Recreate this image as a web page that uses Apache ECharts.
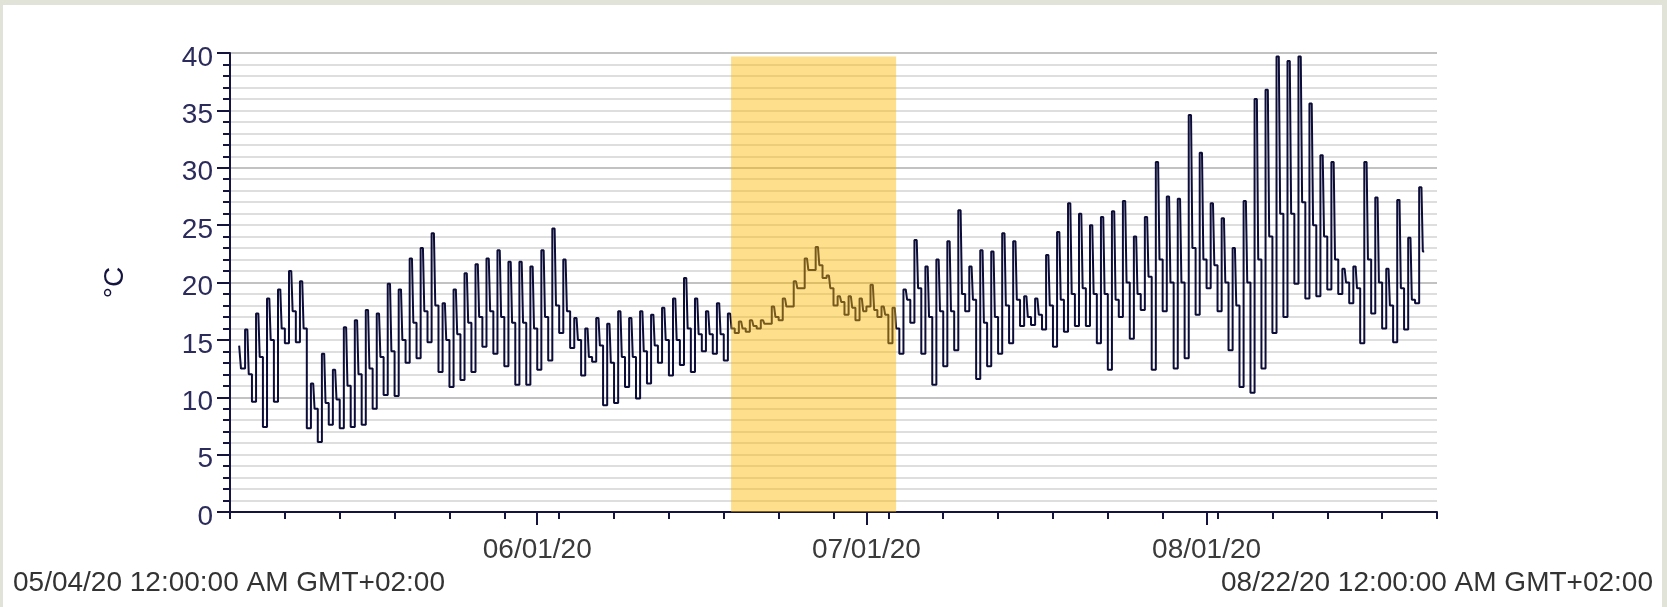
<!DOCTYPE html>
<html>
<head>
<meta charset="utf-8">
<script src="https://cdn.jsdelivr.net/npm/echarts@6/dist/echarts.min.js"></script>
<style>
  body { margin: 0; background: #e1e3d9; }
  .panel { position: absolute; left: 3px; top: 5px; width: 1659px; height: 602px; background: #fff; }
  #chart { position: absolute; left: 0; top: 0; width: 1667px; height: 607px; }
</style>
</head>
<body>
<div class="panel"></div>
<div id="chart"></div>
<script>
// first day of the plot, 05/04/20
var startDay = [2020, 4, 4];
var endDay = [2020, 7, 22];

// daily readings (°C), one entry per day from 05/04: night low, afternoon high, evening
var dayLows = [
  null, 12.5, 9.6, 7.4, 9.6, 14.7, 14.8, 7.3, 6.1, 7.6,
  7.3, 7.4, 7.6, 9.0, 10.2, 10.1, 13.0, 13.4, 14.8, 12.2,
  10.9, 11.5, 12.2, 14.4, 13.8, 12.7, 11.1, 11.1, 12.4, 13.2,
  15.6, 14.3, 11.9, 13.1, 9.3, 9.5, 10.9, 9.9, 11.2, 13.0,
  11.9, 12.8, 12.2, 14.0, 13.8, 13.2, 15.6, 15.7, 16.0, 16.4,
  16.7, 17.9, 19.5, 21.1, 20.4, 18.0, 17.2, 16.7, 17.9, 17.0,
  14.7, 13.8, 16.5, 13.8, 11.1, 12.7, 14.1, 17.5, 11.6, 12.7,
  13.8, 14.7, 16.2, 16.3, 15.9, 14.4, 15.7, 16.2, 16.2, 14.7,
  12.4, 17.0, 15.1, 17.6, 12.4, 17.5, 12.5, 13.4, 17.2, 19.5,
  17.5, 14.1, 10.9, 10.4, 12.5, 15.6, 17.0, 19.9, 18.6, 18.8,
  19.4, 19.0, 18.2, 14.7, 17.3, 16.0, 14.8, 15.9, 18.2
];
var dayHighs = [
  null, 15.9, 17.3, 18.6, 19.4, 21.0, 20.1, 11.2, 13.8, 12.4,
  16.1, 16.7, 17.6, 17.3, 19.9, 19.4, 22.1, 23.0, 24.3, 18.2,
  19.4, 20.8, 21.6, 22.1, 22.8, 21.8, 21.8, 21.4, 22.8, 24.7,
  22.0, 16.9, 16.0, 16.9, 16.4, 17.5, 16.9, 17.5, 17.2, 17.8,
  18.6, 20.4, 18.6, 17.5, 18.2, 17.3, 16.6, 16.7, 16.7, 17.9,
  18.6, 20.1, 22.1, 23.1, 20.6, 18.8, 18.8, 18.6, 19.8, 17.9,
  17.8, 19.4, 23.7, 21.4, 22.0, 23.6, 26.3, 21.4, 22.8, 22.7,
  24.3, 23.6, 18.8, 18.6, 22.4, 24.4, 26.9, 26.0, 25.0, 25.7,
  26.2, 27.1, 24.0, 25.7, 30.5, 27.5, 27.3, 34.6, 31.3, 26.9,
  25.6, 23.0, 27.1, 36.0, 36.8, 39.7, 39.3, 39.7, 35.6, 31.1,
  30.5, 21.2, 21.4, 30.5, 27.4, 21.2, 27.2, 23.9, 28.3
];
var dayEvenings = [
  14.5, 12.0, 13.5, 15.0, 16.0, 17.5, 16.0, 9.0, 9.5, 9.8,
  11.0, 12.0, 12.5, 13.5, 14.0, 15.0, 16.5, 17.5, 18.0, 15.0,
  15.5, 16.5, 17.0, 17.5, 17.0, 16.5, 16.5, 16.0, 17.0, 18.0,
  17.5, 15.0, 13.5, 14.5, 13.0, 13.5, 13.5, 14.0, 14.5, 15.0,
  15.0, 16.0, 15.5, 15.5, 15.5, 16.0, 16.0, 16.2, 16.4, 17.0,
  17.9, 19.5, 21.1, 21.5, 19.5, 18.3, 17.8, 17.5, 17.6, 17.2,
  16.0, 18.5, 19.5, 17.0, 17.5, 17.5, 19.0, 18.5, 16.5, 17.0,
  18.0, 18.5, 17.0, 17.2, 18.0, 18.5, 19.0, 19.5, 19.0, 19.0,
  18.5, 20.0, 19.0, 20.5, 22.0, 20.0, 20.0, 23.0, 22.0, 21.5,
  20.0, 18.0, 20.0, 22.0, 24.0, 26.0, 26.0, 27.0, 25.0, 24.0,
  22.0, 20.0, 19.5, 22.0, 20.0, 18.0, 19.5, 18.5, 22.7
];

// highlighted interval
var bandStart = [2020, 5, 18, 16];
var bandEnd = [2020, 6, 3, 17];
var bandTop = 39.7;

var monthTicks = [[2020, 5, 1], [2020, 6, 1], [2020, 7, 1]];
var monthLabels = ["06/01/20", "07/01/20", "08/01/20"];
var startLabel = "05/04/20 12:00:00 AM GMT+02:00";
var endLabel = "08/22/20 12:00:00 AM GMT+02:00";

function ts(y, m, d, h) {
  return new Date(y, m, d, h || 0).getTime();
}

var points = [];
for (var i = 0; i < dayEvenings.length; i++) {
  if (dayLows[i] != null) points.push([ts(startDay[0], startDay[1], startDay[2] + i, 4), dayLows[i]]);
  if (dayHighs[i] != null) points.push([ts(startDay[0], startDay[1], startDay[2] + i, 14), dayHighs[i]]);
  if (dayEvenings[i] != null) points.push([ts(startDay[0], startDay[1], startDay[2] + i, 20), dayEvenings[i]]);
}

var xMin = ts(startDay[0], startDay[1], startDay[2]);
var xMax = ts(endDay[0], endDay[1], endDay[2]);

// small ticks every 5 days from the first day
var fiveDayTicks = [];
for (var k = 0; ts(startDay[0], startDay[1], startDay[2] + k) <= xMax; k += 5) {
  fiveDayTicks.push(ts(startDay[0], startDay[1], startDay[2] + k));
}
var monthValues = monthTicks.map(function (m) { return ts(m[0], m[1], m[2]); });

var navy = "#14143f";
var font = "Liberation Sans";

var myChart = echarts.init(document.getElementById("chart"));
var option = {
  backgroundColor: "transparent",
  animation: false,
  grid: { left: 230, right: 230, top: 53, bottom: 95 },
  xAxis: [
    {
      type: "value",
      min: xMin,
      max: xMax,
      axisLine: { lineStyle: { color: navy, width: 2 } },
      axisTick: { customValues: fiveDayTicks, length: 7, lineStyle: { color: navy, width: 2 } },
      axisLabel: { show: false },
      splitLine: { show: false }
    },
    {
      type: "value",
      min: xMin,
      max: xMax,
      position: "bottom",
      axisLine: { show: false },
      axisTick: { customValues: monthValues, length: 13, lineStyle: { color: navy, width: 2 } },
      axisLabel: {
        customValues: monthValues,
        margin: 24,
        fontSize: 28,
        fontFamily: font,
        color: "#3a3a3a",
        formatter: function (v) {
          var idx = monthValues.indexOf(v);
          return idx >= 0 ? monthLabels[idx] : "";
        }
      },
      splitLine: { show: false }
    }
  ],
  yAxis: {
    type: "value",
    min: 0,
    max: 40,
    interval: 5,
    name: "°C",
    nameLocation: "middle",
    nameGap: 101,
    nameTextStyle: { fontSize: 28, fontFamily: font, color: navy },
    axisLine: { show: true, lineStyle: { color: navy, width: 2 } },
    axisTick: { show: true, length: 13, lineStyle: { color: navy, width: 2 } },
    minorTick: { show: true, splitNumber: 5, length: 7, lineStyle: { color: navy, width: 2 } },
    axisLabel: {
      margin: 17,
      fontSize: 28,
      fontFamily: font,
      color: "#2b2b5c",
      verticalAlign: "top",
      lineHeight: 10
    },
    splitLine: { lineStyle: { color: ["#c2c2c2", "#dedede"], width: 2 } },
    minorSplitLine: { show: true, lineStyle: { color: "#dedede", width: 2 } }
  },
  series: [
    {
      type: "line",
      step: "middle",
      data: points,
      showSymbol: false,
      lineStyle: { color: "#0c0c38", width: 2 },
      z: 2
    },
    {
      // yellow highlight drawn over the line
      type: "line",
      data: [],
      z: 5,
      markArea: {
        silent: true,
        z: 10,
        itemStyle: { color: "rgba(250,185,0,0.45)" },
        data: [[
          { xAxis: ts(bandStart[0], bandStart[1], bandStart[2], bandStart[3]), yAxis: 0 },
          { xAxis: ts(bandEnd[0], bandEnd[1], bandEnd[2], bandEnd[3]), yAxis: bandTop }
        ]]
      }
    }
  ],
  graphic: [
    { type: "text", left: 13, top: 569, style: { text: startLabel, fontSize: 28, fontFamily: font, fill: "#333" } },
    { type: "text", right: 14, top: 569, style: { text: endLabel, fontSize: 28, fontFamily: font, fill: "#333" } }
  ]
};
myChart.setOption(option);
</script>
</body>
</html>
